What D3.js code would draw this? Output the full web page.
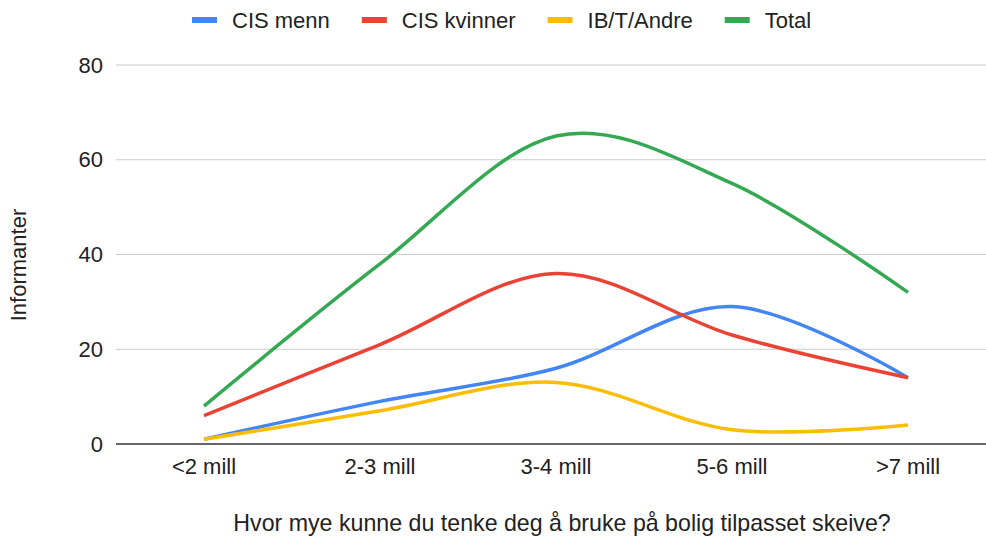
<!--
Line chart: budget for queer-adapted housing
-->
<body style="margin:0;background:#fff">
<script src="https://d3js.org/d3.v7.min.js"></script>
<script>
var categories = ["<2 mill", "2-3 mill", "3-4 mill", "5-6 mill", ">7 mill"];
var seriesNames = ["CIS menn", "CIS kvinner", "IB/T/Andre", "Total"];
var cisMenn = [1, 9, 16, 29, 14];
var cisKvinner = [6, 21, 36, 23, 14];
var ibtAndre = [1, 7, 13, 3, 4];
var total = [8, 38, 65, 55, 32];
var yTicks = [0, 20, 40, 60, 80];
var colors = ["#4285f4", "#ea4335", "#fbbc04", "#34a853"];

var allSeries = [cisMenn, cisKvinner, ibtAndre, total];

var W = 986, H = 538;
var font = "Arial, 'Liberation Sans', sans-serif";

var svg = d3.select("body").append("svg")
  .attr("width", W).attr("height", H)
  .style("font-family", font);

var x = d3.scalePoint().domain(categories).range([116, 996]).padding(0.5);
var y = d3.scaleLinear().domain([0, 80]).range([444, 65]);

// gridlines
svg.append("g").selectAll("line")
  .data(yTicks.filter(d => d > 0))
  .enter().append("line")
  .attr("x1", 116).attr("x2", W)
  .attr("y1", d => y(d)).attr("y2", d => y(d))
  .attr("stroke", "#cccccc").attr("stroke-width", 1);

// y tick labels
svg.append("g").selectAll("text")
  .data(yTicks)
  .enter().append("text")
  .attr("x", 103).attr("y", d => y(d))
  .attr("dy", "0.35em")
  .attr("text-anchor", "end")
  .style("font-size", "22px").attr("fill", "#222")
  .text(d => d);

// x labels
svg.append("g").selectAll("text")
  .data(categories)
  .enter().append("text")
  .attr("x", d => x(d)).attr("y", 474)
  .attr("text-anchor", "middle")
  .style("font-size", "22px").attr("fill", "#222")
  .text(d => d);

// lines
var line = d3.line()
  .x((d, i) => x(categories[i]))
  .y(d => y(d))
  .curve(d3.curveCardinal.tension(0));

svg.append("g").selectAll("path")
  .data(allSeries)
  .enter().append("path")
  .attr("d", d => line(d))
  .attr("fill", "none")
  .attr("stroke", (d, i) => colors[i])
  .attr("stroke-width", 3.5)
  .attr("stroke-linecap", "butt");

// baseline
svg.append("line")
  .attr("x1", 116).attr("x2", W)
  .attr("y1", y(0)).attr("y2", y(0))
  .attr("stroke", "#333").attr("stroke-width", 1.5);

// axis titles
svg.append("text")
  .attr("x", 562).attr("y", 531)
  .attr("text-anchor", "middle")
  .style("font-size", "23.2px").attr("fill", "#222")
  .text("Hvor mye kunne du tenke deg å bruke på bolig tilpasset skeive?");

svg.append("text")
  .attr("transform", "translate(26,265) rotate(-90)")
  .attr("text-anchor", "middle")
  .style("font-size", "22px").attr("fill", "#222")
  .text("Informanter");

// legend
var legend = svg.append("g");
var lx = 192;
seriesNames.forEach((name, i) => {
  legend.append("rect")
    .attr("x", lx).attr("y", 17).attr("width", 25).attr("height", 6)
    .attr("fill", colors[i]);
  var t = legend.append("text")
    .attr("x", lx + 40).attr("y", 20).attr("dy", "0.35em")
    .style("font-size", "22px").attr("fill", "#222")
    .text(name);
  lx += 40 + t.node().getComputedTextLength() + 32;
});
</script>
</body>
